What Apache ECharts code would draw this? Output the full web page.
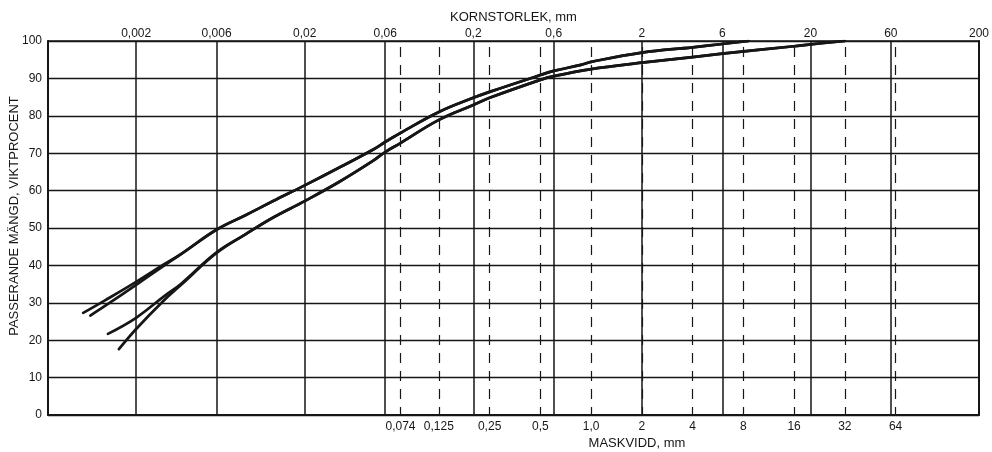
<!DOCTYPE html>
<html>
<head>
<meta charset="utf-8">
<script src="https://cdn.jsdelivr.net/npm/echarts@6/dist/echarts.min.js"></script>
<style>
  html, body { margin: 0; padding: 0; background: #fff; }
  #chart { width: 992px; height: 452px; }
</style>
</head>
<body>
<div id="chart"></div>
<script>
// Grain size scale along the top edge (mm)
const grainTicks  = [0.002, 0.006, 0.02, 0.06, 0.2, 0.6, 2, 6, 20, 60, 200];
const grainLabels = ['0,002', '0,006', '0,02', '0,06', '0,2', '0,6', '2', '6', '20', '60', '200'];

// Sieve mesh sizes along the bottom edge (mm)
const sieveTicks  = [0.074, 0.125, 0.25, 0.5, 1.0, 2, 4, 8, 16, 32, 64];
const sieveLabels = ['0,074', '0,125', '0,25', '0,5', '1,0', '2', '4', '8', '16', '32', '64'];

// Horizontal extent of the diagram (mm)
const sizeMin = 0.0006;
const sizeMax = 200;

// Grading curves: particle size (mm) and passing weight (%)
const curveASize = [0.00097, 0.0013, 0.002, 0.0029, 0.0037, 0.006, 0.0089, 0.013, 0.02, 0.0325, 0.051, 0.06, 0.074, 0.125, 0.2, 0.25, 0.5, 0.6, 0.87, 1.0, 2, 4, 6, 8.6];
const curveAPass = [27.3, 30.6, 35.6, 40.2, 43.1, 49.6, 53.4, 57.2, 61.4, 66.3, 71.0, 73.0, 75.4, 81.0, 84.8, 86.4, 90.9, 92.0, 93.6, 94.4, 96.9, 98.3, 99.2, 100];

const curveBSize = [0.00107, 0.0013, 0.002, 0.0029, 0.0037, 0.006, 0.0089, 0.013, 0.02, 0.0325, 0.051, 0.06, 0.074, 0.125, 0.2, 0.25, 0.5, 0.6, 0.87, 1.0, 2, 4, 6, 8.6];
const curveBPass = [26.6, 29.1, 34.8, 39.8, 43.0, 49.5, 53.4, 57.2, 61.4, 66.3, 71.0, 73.0, 75.4, 81.0, 84.8, 86.4, 90.9, 92.0, 93.6, 94.4, 96.9, 98.3, 99.2, 100];

const curveCSize = [0.00136, 0.002, 0.0029, 0.0037, 0.006, 0.0089, 0.013, 0.02, 0.0325, 0.051, 0.06, 0.074, 0.125, 0.2, 0.25, 0.5, 0.6, 1.0, 2, 4, 6, 16, 20, 32];
const curveCPass = [21.7, 26.0, 31.6, 35.1, 43.5, 48.3, 52.8, 57.2, 62.5, 68.0, 70.3, 72.7, 78.9, 82.9, 84.8, 89.6, 90.6, 92.5, 94.2, 95.7, 96.6, 98.6, 99.1, 100];

const curveDSize = [0.00158, 0.002, 0.0029, 0.0037, 0.006, 0.0089, 0.013, 0.02, 0.0325, 0.051, 0.06, 0.074, 0.125, 0.2, 0.25, 0.5, 0.6, 1.0, 2, 4, 6, 16, 20, 32];
const curveDPass = [17.6, 23.0, 30.5, 34.8, 43.3, 48.3, 52.8, 57.2, 62.5, 68.0, 70.3, 72.7, 78.9, 82.9, 84.8, 89.6, 90.6, 92.5, 94.2, 95.7, 96.6, 98.6, 99.1, 100];

// Passing percentage scale
const passTicks = [0, 10, 20, 30, 40, 50, 60, 70, 80, 90, 100];

const ink = '#161616';
const font = "'Liberation Sans', Arial, Helvetica, sans-serif";

// The x axes are linear in log10(mm), giving a logarithmic size scale
const lg = v => Math.log10(v);
const labelFor = (ticks, labels) => v => {
  for (let i = 0; i < ticks.length; i++) {
    if (Math.abs(lg(ticks[i]) - v) < 1e-6) return labels[i];
  }
  return '';
};
const toPoints = (sizes, pass) => sizes.map((s, i) => [lg(s), pass[i]]);

const curveStyle = { color: ink, width: 2.7, cap: 'round', join: 'round' };
const makeCurve = (name, sizes, pass) => ({
  name, type: 'line', xAxisIndex: 1, yAxisIndex: 0,
  data: toPoints(sizes, pass), smooth: 0.4, symbol: 'none',
  lineStyle: curveStyle, silent: true, z: 5
});

const chart = echarts.init(document.getElementById('chart'), null, { renderer: 'canvas' });
chart.setOption({
  animation: false,
  backgroundColor: '#fff',
  textStyle: { fontFamily: font, color: ink },
  grid: { left: 48, right: 13, top: 41, bottom: 37, containLabel: false, outerBoundsMode: 'none' },
  xAxis: [
    {
      // sieve mesh sizes with dashed verticals
      type: 'value', position: 'bottom',
      min: lg(sizeMin), max: lg(sizeMax),
      name: 'MASKVIDD, mm', nameLocation: 'middle', nameGap: 22, nameMoveOverlap: false,
      nameTextStyle: { fontSize: 13, color: ink, fontFamily: font, padding: [0, 0, 0, 247] },
      axisLine: { show: true, onZero: false, lineStyle: { color: ink, width: 2 } },
      axisTick: { show: false, customValues: sieveTicks.map(lg) },
      axisLabel: { customValues: sieveTicks.map(lg), formatter: labelFor(sieveTicks, sieveLabels),
                   fontSize: 12, color: ink, fontFamily: font, margin: 6 },
      splitLine: { show: true, lineStyle: { color: ink, width: 1.2, type: [10, 8], dashOffset: 12 } }
    },
    {
      // grain size classes with solid verticals
      type: 'value', position: 'top',
      min: lg(sizeMin), max: lg(sizeMax),
      name: 'KORNSTORLEK, mm', nameLocation: 'middle', nameGap: 17, nameMoveOverlap: false,
      nameTextStyle: { fontSize: 13, color: ink, fontFamily: font },
      axisLine: { show: true, onZero: false, lineStyle: { color: ink, width: 1.5 } },
      axisTick: { show: false, customValues: grainTicks.map(lg) },
      axisLabel: { customValues: grainTicks.map(lg), formatter: labelFor(grainTicks, grainLabels),
                   fontSize: 12, color: ink, fontFamily: font, margin: 1 },
      splitLine: { show: true, lineStyle: { color: ink, width: 1.5 } }
    }
  ],
  yAxis: [
    {
      type: 'value', position: 'left', min: 0, max: 100, interval: 10,
      name: 'PASSERANDE MÄNGD, VIKTPROCENT', nameLocation: 'middle', nameGap: 27, nameMoveOverlap: false,
      nameTextStyle: { fontSize: 13, color: ink, fontFamily: font, padding: [0, 0, 0, 24] },
      axisLine: { show: true, onZero: false, lineStyle: { color: ink, width: 2 } },
      axisTick: { show: false },
      axisLabel: { fontSize: 12, color: ink, fontFamily: font, margin: 6,
                   customValues: passTicks },
      splitLine: { show: true, lineStyle: { color: ink, width: 1.4 } }
    },
    {
      // right-hand frame
      type: 'value', position: 'right', min: 0, max: 100, interval: 10,
      axisLine: { show: true, onZero: false, lineStyle: { color: ink, width: 2 } },
      axisTick: { show: false }, axisLabel: { show: false }, splitLine: { show: false }
    }
  ],
  series: [
    makeCurve('A', curveASize, curveAPass),
    makeCurve('B', curveBSize, curveBPass),
    makeCurve('C', curveCSize, curveCPass),
    makeCurve('D', curveDSize, curveDPass)
  ]
});
</script>
</body>
</html>
